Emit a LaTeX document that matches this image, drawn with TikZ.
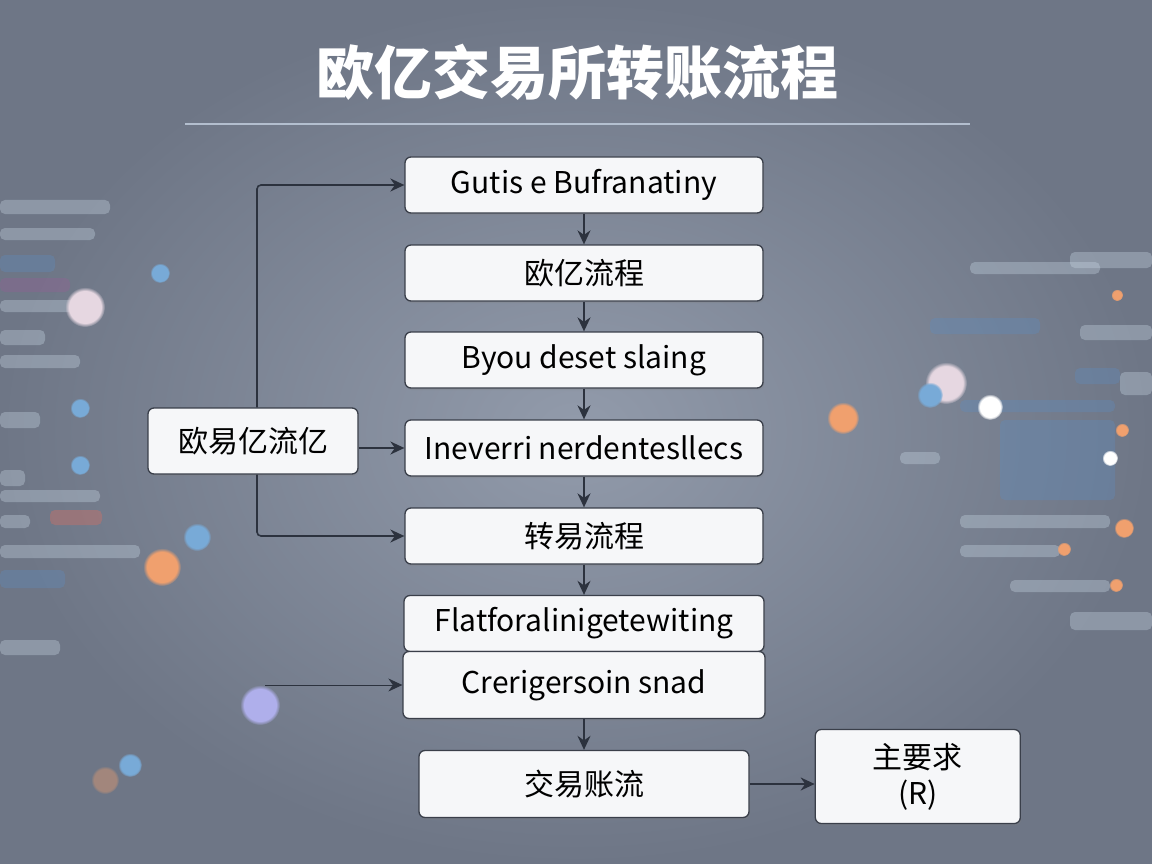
\documentclass[tikz,border=0pt]{standalone}
\usepackage{fontspec}
\setmainfont{Noto Sans CJK SC}
\usepackage{tikz}
\usetikzlibrary{arrows,arrows.meta,shapes,positioning,shadows,fadings}
\usepackage{xcolor}
\definecolor{bginner}{RGB}{146,155,171}
\definecolor{bgouter}{RGB}{110,118,134}
\definecolor{boxfill}{RGB}{246,247,249}
\definecolor{boxline}{RGB}{58,63,74}
\definecolor{arrowdark}{RGB}{44,50,62}
\definecolor{rulelight}{RGB}{196,208,224}
\definecolor{bokehorange}{RGB}{240,160,110}
\definecolor{bokehblue}{RGB}{120,170,215}
\definecolor{bokehpink}{RGB}{230,215,225}
\definecolor{bokehlilac}{RGB}{175,175,235}
\definecolor{barblue}{RGB}{95,140,190}
\definecolor{barlight}{RGB}{200,215,228}
\definecolor{barmagenta}{RGB}{150,95,150}
\definecolor{barred}{RGB}{225,110,95}
\tikzstyle{arrow} = [line width=1.6pt,-{Stealth[length=14pt,width=13pt]},color=arrowdark]
\tikzstyle{flowbox} = [rectangle, rounded corners=6pt, minimum width=358pt, minimum height=56pt, inner sep=4pt, text centered, draw=boxline, fill=boxfill, line width=1.3pt, font=\fontsize{30}{36}\selectfont, drop shadow={opacity=0.25, shadow xshift=1pt, shadow yshift=-2pt}]
\tikzstyle{bokeh} = [path fading=circle with fuzzy edge 20 percent]
\tikzstyle{blurbar} = [rounded corners=5pt, opacity=0.35]

\begin{document}
\begin{tikzpicture}[x=1pt, y=-1pt]
\useasboundingbox (0,0) rectangle (1152,864);
% background
\shade[inner color=bginner, outer color=bgouter] (0,0) rectangle (1152,864);
% blurred screens, left
\fill[blurbar, barlight] (0,200) rectangle (110,214);
\fill[blurbar, barlight] (0,228) rectangle (95,240);
\fill[blurbar, barblue] (0,255) rectangle (55,272);
\fill[blurbar, barmagenta] (0,278) rectangle (70,292);
\fill[blurbar, barlight] (0,300) rectangle (100,312);
\fill[blurbar, barlight] (0,330) rectangle (45,345);
\fill[blurbar, barlight] (0,355) rectangle (80,368);
\fill[blurbar, barlight] (0,412) rectangle (40,428);
\fill[blurbar, barlight] (0,470) rectangle (25,486);
\fill[blurbar, barlight] (0,490) rectangle (100,502);
\fill[blurbar, barred] (50,510) rectangle (102,525);
\fill[blurbar, barlight] (0,515) rectangle (30,528);
\fill[blurbar, barlight] (0,545) rectangle (140,558);
\fill[blurbar, barblue] (0,570) rectangle (65,588);
\fill[blurbar, barlight] (0,640) rectangle (60,655);
% blurred screens, right
\fill[blurbar, barlight] (970,262) rectangle (1100,274);
\fill[blurbar, barlight] (1070,252) rectangle (1152,268);
\fill[blurbar, barblue] (930,318) rectangle (1040,334);
\fill[blurbar, barlight] (1080,325) rectangle (1152,340);
\fill[blurbar, barblue] (1075,368) rectangle (1120,384);
\fill[blurbar, barblue] (960,400) rectangle (1115,412);
\fill[blurbar, barlight] (1120,372) rectangle (1152,395);
\fill[blurbar, barlight] (900,452) rectangle (940,464);
\fill[blurbar, barblue] (1000,420) rectangle (1115,500);
\fill[blurbar, barlight] (960,515) rectangle (1110,528);
\fill[blurbar, barlight] (960,545) rectangle (1060,557);
\fill[blurbar, barlight] (1010,580) rectangle (1110,592);
\fill[blurbar, barlight] (1070,612) rectangle (1152,630);
\fill[bokehpink, bokeh] (85,307) circle (20pt);
\fill[bokehblue, bokeh] (160,273) circle (10pt);
\fill[bokehblue, bokeh] (197,537) circle (14pt);
\fill[bokehorange, bokeh] (162,567) circle (19pt);
\fill[bokehlilac, bokeh] (260,705) circle (20pt);
\fill[bokehblue, bokeh] (80,408) circle (10pt);
\fill[bokehblue, bokeh] (80,465) circle (10pt);
\fill[bokehorange, bokeh] (843,418) circle (16pt);
\fill[bokehpink, bokeh] (946,383) circle (21pt);
\fill[bokehblue, bokeh] (930,395) circle (13pt);
\fill[white, bokeh] (990,407) circle (13pt);
\fill[bokehorange, bokeh] (1117,295) circle (6pt);
\fill[bokehorange, bokeh] (1122,430) circle (7pt);
\fill[bokehorange, bokeh] (1124,528) circle (10pt);
\fill[bokehorange, bokeh] (1064,549) circle (7pt);
\fill[white, bokeh] (1110,458) circle (8pt);
\fill[bokehorange, bokeh] (1116,585) circle (7pt);
\fill[bokehblue, bokeh] (130,765) circle (12pt);
\fill[bokehorange, opacity=0.4, bokeh] (105,780) circle (14pt);

% title
\node (title) at (577,72) {\textcolor{white}{\bfseries\fontsize{58}{62}\selectfont 欧亿交易所转账流程}};
\draw[rulelight, line width=1.5pt, opacity=0.8] (185,124) -- (970,124);

% main column
\node (gutis) [flowbox] at (584,185) {Gutis e Bufranatiny};
\node (ouyi) [flowbox, below=30.7pt of gutis] {欧亿流程};
\node (byou) [flowbox, below=29.7pt of ouyi] {Byou deset slaing};
\node (inev) [flowbox, below=30.7pt of byou] {Ineverri nerdentesllecs};
\node (zhuan) [flowbox, below=30.7pt of inev] {转易流程};
\node (flat) [flowbox, below=30.2pt of zhuan, minimum width=360pt] {Flatforalinigetewiting};
\node (creri) [flowbox, below=-1.3pt of flat, minimum width=362pt, minimum height=67pt] {Crerigersoin snad};
\node (jiaoyi) [flowbox, below=30.7pt of creri, minimum width=330pt, minimum height=67pt] {交易账流};
\node (yaoqiu) [flowbox, right=65pt of jiaoyi, yshift=7.5pt, minimum width=205pt, minimum height=94pt, align=center, font=\fontsize{30}{36}\selectfont] {主要求\\(R)};
% side box
\node (side) [flowbox] at (253,441) [minimum width=210pt, minimum height=66pt] {欧易亿流亿};
\coordinate [left=137pt of creri.west] (dot);

\draw[arrow] (gutis) -- (ouyi);
\draw[arrow] (ouyi) -- (byou);
\draw[arrow] (byou) -- (inev);
\draw[arrow] (inev) -- (zhuan);
\draw[arrow] (zhuan) -- (flat);
\draw[arrow] (creri) -- (jiaoyi);
\draw[arrow] (jiaoyi.east) -- (jiaoyi.east -| yaoqiu.west);
\draw[arrow, rounded corners=4pt] ([xshift=4pt]side.north) |- (gutis.west);
\draw[arrow] (side.east |- inev.west) -- (inev.west);
\draw[arrow, rounded corners=4pt] ([xshift=4pt]side.south) |- (zhuan.west);
\draw[arrow, line width=1pt] (dot) -- (creri.west);
\end{tikzpicture}
\end{document}
